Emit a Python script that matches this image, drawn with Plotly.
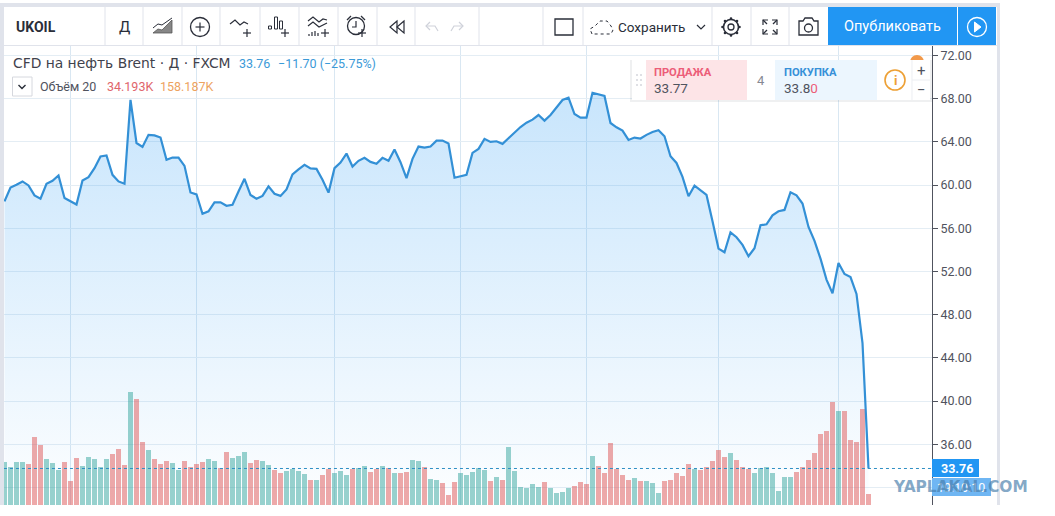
import plotly.graph_objects as go

W, H = 1055, 516

# ---------- data ----------
closes = [
    58.49, 59.78, 60.03, 60.34, 59.97, 59.05, 58.74, 60.12, 60.40, 60.89,
    58.80, 58.52, 58.20, 60.43, 60.74, 61.57, 62.65, 62.74, 60.95, 60.34,
    60.12, 67.90, 63.90, 63.54, 64.65, 64.60, 64.40, 62.34, 62.55, 62.55,
    61.78, 59.32, 59.14, 57.35, 57.57, 58.40, 58.40, 58.09, 58.18, 59.40,
    60.58, 59.08, 58.74, 59.00, 59.88, 59.20, 59.00, 59.60, 61.00, 61.45,
    61.88, 61.54, 61.50, 60.50, 59.30, 61.57, 62.09, 62.92, 61.72, 62.25,
    62.52, 62.15, 61.97, 62.52, 62.25, 63.29, 62.12, 60.65, 62.43, 63.57,
    63.48, 63.57, 64.12, 64.12, 63.85, 60.68, 60.83, 60.95, 62.98, 63.35,
    64.28, 64.00, 64.06, 63.82, 64.34, 64.89, 65.38, 65.78, 66.06, 66.49,
    65.97, 66.49, 67.17, 67.88, 68.09, 66.58, 66.25, 66.25, 68.55, 68.37,
    68.25, 65.75, 65.35, 65.05, 64.18, 64.40, 64.31, 64.65, 64.92, 65.08,
    64.52, 62.67, 62.05, 60.76, 58.97, 59.95, 59.49, 59.09, 56.65, 54.12,
    53.78, 55.63, 55.17, 54.46, 53.41, 54.15, 56.28, 56.37, 57.20, 57.58,
    57.70, 59.34, 59.06, 58.29, 56.12, 54.83, 53.19, 51.25, 49.98, 52.79,
    51.77, 51.49, 49.92, 45.38, 33.76,
]
volumes_k = [
    133.6, 118.1, 133.6, 133.6, 127.4, 211.3, 186.5, 143.0, 130.5, 108.8,
    133.6, 74.6, 146.1, 121.2, 149.2, 143.0, 118.1, 143.0, 158.5, 174.0,
    124.3, 351.2, 329.4, 195.8, 170.9, 143.0, 127.4, 136.8, 130.5, 108.8,
    136.8, 118.1, 127.4, 133.6, 143.0, 136.8, 115.0, 164.7, 146.1, 152.3,
    164.7, 130.5, 139.9, 136.8, 124.3, 108.8, 99.5, 105.7, 111.9, 105.7,
    96.3, 77.7, 77.7, 93.2, 111.9, 99.5, 105.7, 93.2, 111.9, 115.0,
    121.2, 102.6, 111.9, 121.2, 115.0, 99.5, 99.5, 102.6, 139.9, 136.8,
    118.1, 80.8, 77.7, 68.4, 31.1, 71.5, 99.5, 93.2, 102.6, 115.0,
    108.8, 74.6, 87.0, 77.7, 180.3, 105.7, 55.9, 52.8, 65.3, 55.9,
    71.5, 52.8, 37.3, 40.4, 52.8, 59.1, 71.5, 65.3, 152.3, 121.2,
    99.5, 192.7, 111.9, 93.2, 77.7, 83.9, 74.6, 74.6, 68.4, 37.3,
    74.6, 77.7, 99.5, 90.1, 127.4, 111.9, 108.8, 118.1, 136.8, 170.9,
    149.2, 161.6, 139.9, 118.1, 111.9, 99.5, 115.0, 118.1, 99.5, 43.5,
    87.0, 87.0, 102.6, 118.1, 139.9, 161.6, 220.7, 230.0, 320.1, 292.2,
    292.2, 202.0, 195.8, 298.4, 34.193,
]
bar_sides = list(
    "GGGG RRR GGG RRR GGGGG RRR G RR G RRR GG RRRR GG RR GGG RR GG RR GGGG R G RR "
    "GGG R GG RR G R G RR GG R GG RRR GGGGG R G R GGGGGG R GGGG RRR G RRRRRR G R "
    "GGG RRRRR G RRRRR G RRR GGGGGGG RRRRRRR G RRRR R".replace(" ", "")
)
sessions = list(range(len(closes)))
grid_sessions = [11, 32, 55, 76, 97, 119, 139]
price_ticks = [72, 68, 64, 60, 56, 52, 48, 44, 40, 36, 32]
last_price = 33.76

# ---------- layout helpers (pixel -> paper) ----------
PL, PR, PT, PB = 4, 932, 46, 505
FONT = "Roboto, 'Open Sans', sans-serif"
GREY = "#e0e3eb"
INK = "#2a2e39"
BLUE = "#2196f3"
fx = lambda x: x / W
fy = lambda y: 1 - y / H
shapes, notes = [], []


def rect(x0, y0, x1, y1, fill, line=None, lw=1):
    shapes.append(dict(type="rect", xref="paper", yref="paper",
                       x0=fx(x0), x1=fx(x1), y0=fy(y0), y1=fy(y1),
                       fillcolor=fill, line=dict(color=line or "rgba(0,0,0,0)", width=lw if line else 0)))


def circle(cx, cy, r, line=INK, fill="rgba(0,0,0,0)", lw=1.3):
    shapes.append(dict(type="circle", xref="paper", yref="paper",
                       x0=fx(cx - r), x1=fx(cx + r), y0=fy(cy - r), y1=fy(cy + r),
                       fillcolor=fill, line=dict(color=line or "rgba(0,0,0,0)", width=lw if line else 0)))


def dot(cx, cy, r, fill):
    circle(cx, cy, r, line=None, fill=fill)


def path(pts, color=INK, lw=1.2, fill=None, close=False, dash=None):
    d = "M " + " L ".join(f"{fx(x):.5f},{fy(y):.5f}" for x, y in pts) + (" Z" if close else "")
    ln = dict(color=color, width=lw)
    if dash:
        ln["dash"] = dash
    shapes.append(dict(type="path", xref="paper", yref="paper", path=d,
                       fillcolor=fill or "rgba(0,0,0,0)", line=ln))


def plus(cx, cy, r=4, color=INK):
    path([(cx - r, cy), (cx + r, cy)], color)
    path([(cx, cy - r), (cx, cy + r)], color)


def text(x, y, s, size=13, color=INK, anchor="left", bold=False, family=FONT):
    notes.append(dict(xref="paper", yref="paper", x=fx(x), y=fy(y), text=f"<b>{s}</b>" if bold else s,
                      showarrow=False, xanchor=anchor, yanchor="middle", borderpad=0, borderwidth=0,
                      font=dict(size=size, color=color, family=family)))


# ---------- page frame ----------
rect(0, 3, 1000, 7, GREY)
rect(0, 3, 4, PB, GREY)
rect(997, 3, 1000, PB, GREY)
rect(PL, 7, 997, 45, "#ffffff")
path([(PL, 45.5), (997, 45.5)], GREY, 1)
for sx in [105, 143, 182, 220, 260, 299, 338, 377, 415, 479, 543, 583, 712, 751, 789]:
    path([(sx, 7), (sx, 45)], GREY, 1)

# ---------- toolbar ----------
text(16, 27, "UKOIL", 14, INK, bold=True)
text(124, 27, "Д", 15, INK, "center")
# area style icon
path([(153, 33), (158, 29), (162, 30), (167, 25), (172, 20), (172, 33)], "#555", 0.8, "rgba(70,70,70,0.65)", True)
path([(153, 28), (158, 24), (162, 25), (172, 18)], INK, 1)
# add compare
circle(200, 27, 9.5)
plus(200, 27, 4.5)
# indicators
path([(230, 24), (235, 20), (240, 25), (244, 22), (248, 24)])
plus(247, 33)
# bars
for bx, by in [(270, 26), (276, 17), (281, 21)]:
    rect(bx - 1.5, by, bx + 1.5, 29, "rgba(0,0,0,0)", INK, 1)
plus(285, 33)
# multi
path([(308, 21), (313, 17), (319, 22), (323, 19), (327, 20)])
path([(308, 26), (313, 22), (319, 27), (327, 23)])
for bx, by in [(309, 34), (312, 32), (315, 31), (318, 33)]:
    path([(bx, by), (bx, 36)])
plus(325, 33)
# alarm
circle(356, 26, 8.5)
path([(356, 21), (356, 27), (352, 27)])
path([(347, 20), (351, 16)])
path([(365, 20), (361, 16)])
plus(362, 33)
# rewind
path([(397, 21), (390, 27), (397, 33)], close=True)
path([(404, 21), (397, 27), (404, 33)], close=True)
# undo / redo
path([(430, 22), (426, 26), (430, 30)], "#cfd2da")
path([(426, 26), (435, 26), (438, 31)], "#cfd2da")
path([(459, 22), (463, 26), (459, 30)], "#cfd2da")
path([(463, 26), (454, 26), (451, 31)], "#cfd2da")
# rectangle
shapes.append(dict(type="rect", xref="paper", yref="paper", x0=fx(555), x1=fx(573), y0=fy(19), y1=fy(35),
                   fillcolor="rgba(0,0,0,0)", line=dict(color=INK, width=1.3)))
# cloud
path([(592, 34), (590, 29), (595, 26), (600, 21), (607, 21), (611, 26), (613, 30), (611, 34), (592, 34)], INK, 1, dash="dot")
text(618, 27, "Сохранить", 13.5, INK)
path([(697, 25), (701, 29), (705, 25)])
# gear
circle(731, 27, 3)
circle(731, 27, 7.5, lw=1.6)
for dx, dy in [(0, -8.5), (0, 8.5), (-8.5, 0), (8.5, 0), (-6, -6), (6, 6), (-6, 6), (6, -6)]:
    dot(731 + dx, 27 + dy, 1.3, INK)
# fullscreen corners
for cx, cy, sx, sy in [(763, 20, 1, 1), (777, 20, -1, 1), (763, 34, 1, -1), (777, 34, -1, -1)]:
    path([(cx, cy + 5 * sy), (cx, cy), (cx + 5 * sx, cy)])
    path([(cx, cy), (cx + 4 * sx, cy + 4 * sy)])
# camera
path([(799, 21), (803, 21), (805, 18), (812, 18), (814, 21), (818, 21), (818, 35), (799, 35)], INK, 1.3, close=True)
circle(808.5, 28, 4)
# publish
rect(828, 7, 957, 45, BLUE)
rect(958, 7, 996, 45, BLUE)
text(892.5, 27, "Опубликовать", 14.5, "#ffffff", "center")
circle(977, 27, 9.5, line="#ffffff")
path([(974.5, 22), (981, 27), (974.5, 32)], "#ffffff", 1, "#ffffff", True)

# ---------- legend ----------
text(13, 62.5, "CFD на нефть Brent · Д · FXCM", 13.85, "#3f424c", family="'DejaVu Sans'")
text(239, 63.5, "33.76", 12.5, "#3b9ad8")
text(278, 63.5, "−11.70 (−25.75%)", 12.5, "#3b9ad8")
rect(12.5, 77, 32, 96, "#ffffff", "#d6d8de", 1)
path([(18.5, 85), (22, 88.5), (25.5, 85)], INK, 1.4)
text(40, 87, "Объём 20", 12.5, "#50535e")
text(107, 87, "34.193K", 12.5, "#e0656b")
text(160, 87, "158.187K", 12.5, "#eda35f")

# ---------- trading panel ----------
dot(917, 62, 7, "#f2994a")
rect(630, 60, 932, 102, "rgba(30,40,60,0.07)")
rect(632, 60, 930, 100, "#ffffff")
rect(646, 60, 747, 100, "#fde4e7")
rect(775, 60, 877, 100, "#ecf6fe")
path([(912, 60), (912, 100)], "#eceef2", 1)
path([(912, 80), (930, 80)], "#eceef2", 1)
for gx in [637, 641]:
    for gy in [75, 80, 85]:
        dot(gx, gy, 1, "#d4d6dc")
text(654, 72, "ПРОДАЖА", 11.2, "#ec5d78", bold=True)
text(654, 88, "33.77", 13.5, "#50535e")
text(761, 80, "4", 13, "#868993", "center")
text(784, 72, "ПОКУПКА", 11.2, "#3690d8", bold=True)
text(784, 88, "33.8<span style='color:#ec5d78'>0</span>", 13.5, "#50535e")
circle(895, 80, 10, line="#eda035", lw=1.6)
text(895, 80, "i", 13, "#eda035", "center", bold=True)
text(921.5, 71, "+", 15, "#50535e", "center")
text(921.5, 90, "−", 15, "#50535e", "center")

# ---------- last price line and axis tags ----------
shapes.append(dict(type="line", xref="x", yref="y", x0=-0.09, x1=154.6, y0=last_price, y1=last_price,
                   line=dict(color="#2f8fc4", width=1, dash="dot")))
rect(932, 459, 979, 477, BLUE)
text(941, 468, "33.76", 12.5, "#ffffff", bold=True)
rect(932, 478, 991, 496, "#6fb6f3")
text(937, 487, "19:10:10", 12.5, "#ffffff")
text(960.5, 486.5, "YAPLAKAL.COM", 15.4, "rgba(70,125,170,0.68)", "center", bold=True, family="'DejaVu Sans'")

# ---------- chart ----------
x_range = [(PL - 4.5) / 6, (PR - 4.5) / 6]
y_range = [72 + (55.5 - PB) / 10.8, 72 + (55.5 - PT) / 10.8]
dom_x = [fx(PL), fx(PR)]
dom_y = [fy(PB), fy(PT)]

fig = go.Figure()
fig.add_trace(go.Scatter(
    x=sessions, y=closes, mode="none", fill="tozeroy", hoverinfo="skip", xaxis="x", yaxis="y",
    fillgradient=dict(type="vertical", start=69, stop=y_range[0],
                      colorscale=[[0, "rgba(33,150,243,0.25)"], [1, "rgba(33,150,243,0.01)"]]),
))
fig.add_trace(go.Bar(
    x=sessions, y=volumes_k, width=0.83, xaxis="x", yaxis="y2", hoverinfo="skip",
    marker=dict(color=["rgba(38,160,150,0.47)" if s == "G" else "rgba(222,84,84,0.5)" for s in bar_sides],
                line=dict(width=0)),
))
fig.add_trace(go.Scatter(
    x=sessions, y=closes, mode="lines", xaxis="x", yaxis="y3", hoverinfo="skip",
    line=dict(color="#3390d6", width=2.2, shape="linear"),
))

fig.update_layout(
    width=W, height=H, autosize=False, showlegend=False, bargap=0,
    margin=dict(l=0, r=0, t=0, b=0, pad=0),
    paper_bgcolor="#ffffff", plot_bgcolor="#ffffff",
    font=dict(family=FONT, size=13, color="#50535e"),
    xaxis=dict(domain=dom_x, range=x_range, tickmode="array", tickvals=grid_sessions,
               showticklabels=False, ticks="", showgrid=True, gridcolor="#d9e7f2", gridwidth=1,
               zeroline=False, showline=False, fixedrange=True),
    yaxis=dict(domain=dom_y, range=y_range, side="right", tickmode="array", tickvals=price_ticks,
               tickformat=".2f", ticks="outside", ticklen=5, tickwidth=1, tickcolor="#50535e",
               tickfont=dict(size=12.5, color="#50535e"), showline=True, linecolor="#50535e", linewidth=1,
               showgrid=True, gridcolor="#e4edf4", gridwidth=1, zeroline=False, fixedrange=True),
    yaxis2=dict(domain=dom_y, range=[0, 1426.6], overlaying="y", visible=False, fixedrange=True),
    yaxis3=dict(domain=dom_y, range=y_range, overlaying="y", visible=False, fixedrange=True),
    shapes=shapes, annotations=notes,
)

fig.write_html("out.html", config=dict(displayModeBar=False),
               post_script="document.body.style.margin='0';document.documentElement.style.overflow='hidden';")
